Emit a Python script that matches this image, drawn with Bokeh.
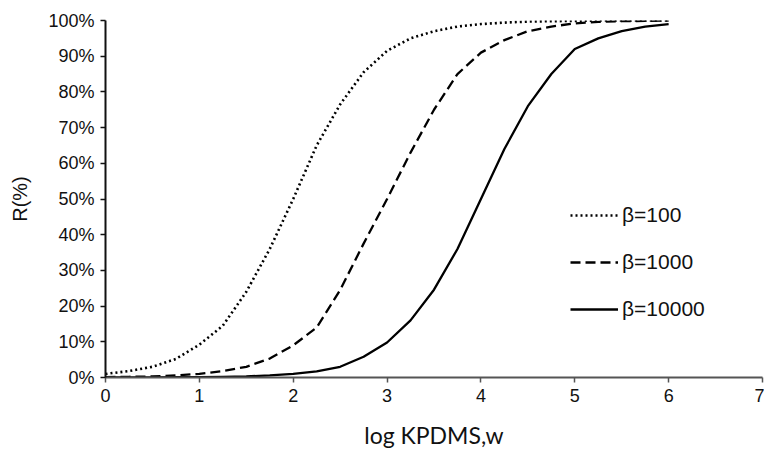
from bokeh.plotting import figure
from bokeh.models import ColumnDataSource, FixedTicker, NumeralTickFormatter, Range1d, Legend, LegendItem
from bokeh.embed import file_html
from bokeh.resources import INLINE

# log KPDMS,w values
log_k = [0, 0.25, 0.5, 0.75, 1.0, 1.25, 1.5, 1.75, 2.0, 2.25, 2.5, 2.75, 3.0,
         3.25, 3.5, 3.75, 4.0, 4.25, 4.5, 4.75, 5.0, 5.25, 5.5, 5.75, 6.0]

# R (%)
r_beta_100 = [1.0, 1.8, 3.0, 5.2, 9.2, 14.5, 24, 36, 50, 65, 76.5, 85.5, 91.5,
              95, 97, 98.3, 99, 99.4, 99.7, 99.8, 99.9, 100, 100, 100, 100]
r_beta_1000 = [0.1, 0.2, 0.3, 0.6, 1.0, 1.8, 3.0, 5.3, 9.0, 14, 24.5, 37.5, 50,
               63, 75, 85, 91, 94.5, 97, 98.3, 99.2, 99.6, 99.8, 99.9, 100]
r_beta_10000 = [0, 0, 0, 0.1, 0.1, 0.2, 0.3, 0.6, 1.0, 1.7, 3.0, 5.8, 9.8,
                16, 24.6, 36, 50, 64, 76, 85, 92, 95, 97, 98.3, 99]

x_ticks = [0, 1, 2, 3, 4, 5, 6, 7]
y_ticks = [0, 0.1, 0.2, 0.3, 0.4, 0.5, 0.6, 0.7, 0.8, 0.9, 1.0]

series_labels = ["\u03b2=100", "\u03b2=1000", "\u03b2=10000"]

src = ColumnDataSource(dict(
    x=log_k,
    b100=[v / 100 for v in r_beta_100],
    b1000=[v / 100 for v in r_beta_1000],
    b10000=[v / 100 for v in r_beta_10000],
))

p = figure(width=764, height=451, output_backend="svg", toolbar_location=None,
           x_range=Range1d(0, 7), y_range=Range1d(0, 1),
           min_border_left=105, min_border_right=2, min_border_top=20, min_border_bottom=73)
p.outline_line_color = None
p.grid.visible = False
p.background_fill_color = "white"

r1 = p.line("x", "b100", source=src, line_color="black", line_width=2.6, line_dash="2 3")
r2 = p.line("x", "b1000", source=src, line_color="black", line_width=2.3, line_dash="10 5")
r3 = p.line("x", "b10000", source=src, line_color="black", line_width=2.3)

font = "Liberation Sans"
p.xaxis.ticker = FixedTicker(ticks=x_ticks)
p.yaxis.ticker = FixedTicker(ticks=y_ticks)
p.yaxis.formatter = NumeralTickFormatter(format="0%")
for ax in (p.xaxis, p.yaxis):
    ax.major_label_text_font = font
    ax.major_label_text_font_size = "18px"
    ax.major_label_text_color = "#111111"
    ax.minor_tick_line_color = None
    ax.major_tick_in = 0
    ax.major_tick_out = 5
    ax.major_label_standoff = 6
p.xaxis.axis_line_color = "#555555"
p.xaxis.axis_line_width = 2
p.xaxis.major_tick_line_color = "#555555"
p.xaxis.major_tick_line_width = 1.5
p.yaxis.axis_line_color = "#111111"
p.yaxis.axis_line_width = 2
p.yaxis.major_tick_line_color = "#111111"
p.yaxis.major_tick_line_width = 1.5

p.xaxis.axis_label = "log KPDMS,w"
p.xaxis.axis_label_text_font = "Lato"
p.xaxis.axis_label_text_font_style = "normal"
p.xaxis.axis_label_text_font_size = "23px"
p.xaxis.axis_label_text_color = "#111111"
p.xaxis.axis_label_standoff = 16

p.yaxis.axis_label = "R(%)"
p.yaxis.axis_label_text_font = font
p.yaxis.axis_label_text_font_style = "normal"
p.yaxis.axis_label_text_font_size = "20px"
p.yaxis.axis_label_text_color = "#111111"
p.yaxis.axis_label_standoff = 14

legend = Legend(items=[LegendItem(label=series_labels[0], renderers=[r1]),
                       LegendItem(label=series_labels[1], renderers=[r2]),
                       LegendItem(label=series_labels[2], renderers=[r3])],
                location=(465, 56))
legend.border_line_color = None
legend.background_fill_alpha = 0
legend.padding = 0
legend.margin = 0
legend.spacing = 23
legend.glyph_width = 48
legend.glyph_height = 20
legend.label_height = 20
legend.label_standoff = 4
legend.label_text_font = font
legend.label_text_font_size = "21px"
legend.label_text_color = "#111111"
p.add_layout(legend, "center")

open("out.html", "w").write(file_html(p, INLINE))
